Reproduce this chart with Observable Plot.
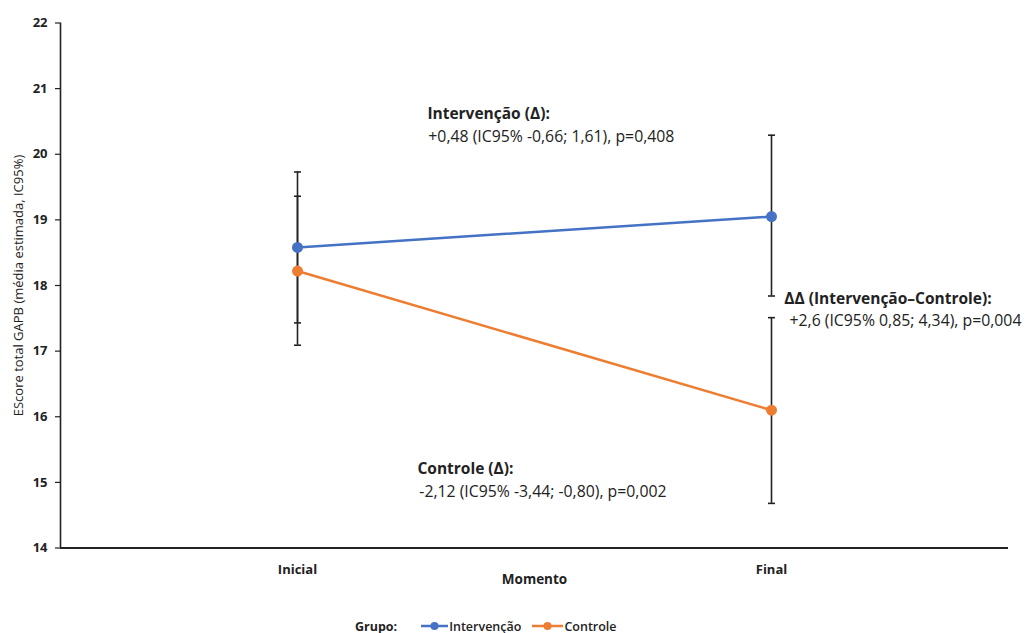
<!DOCTYPE html>
<html>
<head>
<meta charset="utf-8">
<script src="https://cdn.jsdelivr.net/npm/d3@7"></script>
<script src="https://cdn.jsdelivr.net/npm/@observablehq/plot@0.6"></script>
<style>
  html, body { margin: 0; padding: 0; background: #fff; overflow: hidden; }
  body { font-family: "Open Sans", sans-serif; color: #222; }
  #chart svg { display: block; }
  #chart g[aria-label="y-axis tick label"] text,
  #chart g[aria-label="x-axis tick label"] text { font-weight: bold; font-size: 13px; }
  #legend { display: flex; align-items: center; height: 36px; padding-left: 355px; font-size: 12.5px; color: #222; }
  #legend .title { font-weight: 700; margin-right: 24px; }
  #legend .item { display: flex; align-items: center; margin-right: 11px; font-weight: 600; }
  #legend svg { display: block; margin-right: 1px; }
</style>
</head>
<body>
<div id="chart"></div>
<div id="legend"></div>
<script>
// ---- Data ----
const momentos = ["Inicial", "Final"];
const grupos = ["Intervenção", "Controle"];
const cores = ["#4472C4", "#ED7D31"];
const mediaIntervencao = [18.58, 19.05];
const icInfIntervencao = [17.43, 17.84];
const icSupIntervencao = [19.73, 20.29];
const mediaControle = [18.22, 16.10];
const icInfControle = [17.09, 14.68];
const icSupControle = [19.36, 17.51];
const yTicks = [14, 15, 16, 17, 18, 19, 20, 21, 22];
const tituloY = "EScore total GAPB (média estimada, IC95%)";
const tituloX = "Momento";
const tituloLegenda = "Grupo:";
const anotTitulos = ["Intervenção (Δ):", "ΔΔ (Intervenção–Controle):", "Controle (Δ):"];
const anotTextos = ["+0,48 (IC95% -0,66; 1,61), p=0,408", "+2,6 (IC95% 0,85; 4,34), p=0,004", "-2,12 (IC95% -3,44; -0,80), p=0,002"];

// ---- Build table ----
const medias = [mediaIntervencao, mediaControle];
const icInf = [icInfIntervencao, icInfControle];
const icSup = [icSupIntervencao, icSupControle];
const rows = [];
momentos.forEach((m, i) => {
  grupos.forEach((g, j) => {
    rows.push({momento: m, pos: i + 0.5, grupo: g, media: medias[j][i], lo: icInf[j][i], hi: icSup[j][i]});
  });
});
const caps = rows.flatMap(r => [{pos: r.pos, v: r.lo}, {pos: r.pos, v: r.hi}]);

// annotation layout (x in category-band units, y in score units)
const anotLayout = [
  {x1: 0.774, y1: 20.62, x2: 0.776, y2: 20.27},
  {x1: 1.527, y1: 17.80, x2: 1.538, y2: 17.465},
  {x1: 0.753, y1: 15.21, x2: 0.757, y2: 14.86}
];
const anotBold = anotTitulos.map((t, i) => ({t, x: anotLayout[i].x1, y: anotLayout[i].y1}));
const anotReg = anotTextos.map((t, i) => ({t, x: anotLayout[i].x2, y: anotLayout[i].y2}));

const capSymbol = {
  draw(context) {
    context.moveTo(-3.5, 0);
    context.lineTo(3.5, 0);
  }
};

const ink = "#222";
const plot = Plot.plot({
  width: 1025,
  height: 608,
  marginLeft: 60,
  marginRight: 17,
  marginTop: 22.5,
  marginBottom: 60.5,
  style: {fontFamily: "Open Sans", color: ink, background: "#fff"},
  x: {domain: [0, momentos.length]},
  y: {domain: [14, 22]},
  color: {domain: grupos, range: cores},
  marks: [
    Plot.axisY({ticks: yTicks, tickSize: 5, tickPadding: 8, label: null, fontSize: 13, fontWeight: "bold", strokeWidth: 1.2}),
    Plot.axisX({ticks: momentos.map((m, i) => i + 0.5), tickFormat: d => momentos[Math.round(d - 0.5)], tickSize: 0, tickPadding: 17, label: null, fontSize: 13, fontWeight: "bold"}),
    Plot.ruleX([0], {stroke: ink, strokeWidth: 1.6}),
    Plot.ruleY([14], {stroke: ink, strokeWidth: 2}),
    Plot.ruleX(rows, {x: "pos", y1: "lo", y2: "hi", stroke: ink, strokeWidth: 1.6}),
    Plot.dot(caps, {x: "pos", y: "v", symbol: capSymbol, stroke: ink, strokeWidth: 1.6, fill: "none"}),
    Plot.line(rows, {x: "pos", y: "media", z: "grupo", stroke: "grupo", strokeWidth: 2.5}),
    Plot.dot(rows, {x: "pos", y: "media", fill: "grupo", r: 5.5}),
    Plot.text(anotBold, {x: "x", y: "y", text: "t", textAnchor: "start", lineAnchor: "middle", fontSize: 15.5, fontWeight: "bold", fill: ink}),
    Plot.text(anotReg, {x: "x", y: "y", text: "t", textAnchor: "start", lineAnchor: "middle", fontSize: 15.8, fill: ink}),
    Plot.text([tituloY], {frameAnchor: "left", dx: -42, rotate: -90, textAnchor: "middle", lineAnchor: "middle", fontSize: 13, fill: ink}),
    Plot.text([tituloX], {frameAnchor: "bottom", dy: 32, textAnchor: "middle", lineAnchor: "middle", fontSize: 13.5, fontWeight: "bold", fill: ink})
  ]
});
document.getElementById("chart").appendChild(plot);

// ---- Legend ----
const legend = document.getElementById("legend");
const t = document.createElement("span");
t.className = "title";
t.textContent = tituloLegenda;
legend.appendChild(t);
grupos.forEach((g, i) => {
  const item = document.createElement("span");
  item.className = "item";
  const w = i === 0 ? 27 : 31;
  item.innerHTML = `<svg width="${w}" height="12"><line x1="0" y1="6" x2="${w}" y2="6" stroke="${cores[i]}" stroke-width="2.5"/><circle cx="${w / 2}" cy="6" r="4" fill="${cores[i]}"/></svg>`;
  const s = document.createElement("span");
  s.textContent = g;
  item.appendChild(s);
  legend.appendChild(item);
});
</script>
</body>
</html>
